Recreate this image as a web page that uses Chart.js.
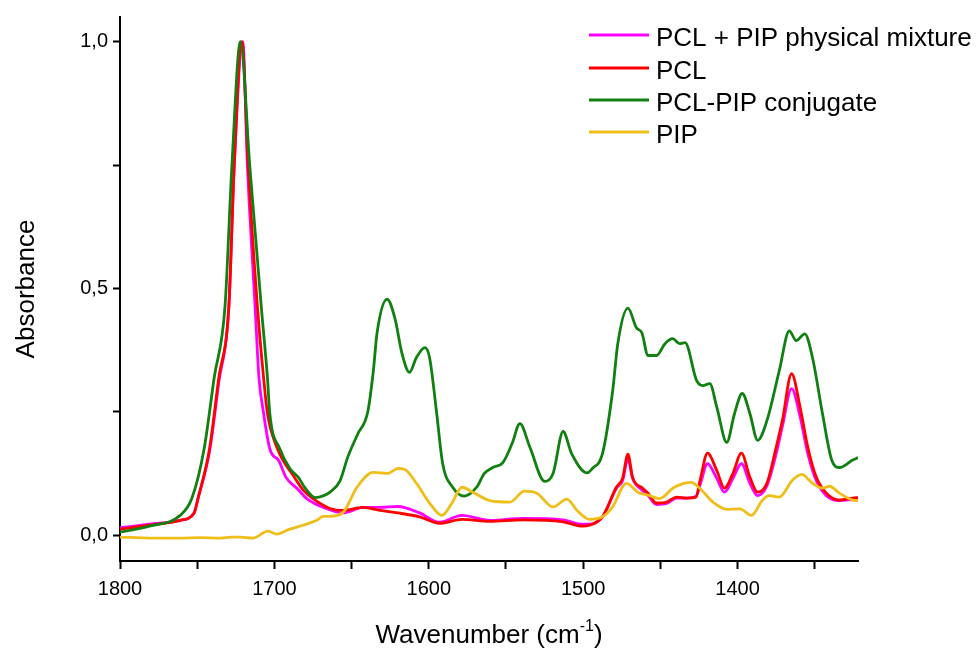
<!DOCTYPE html>
<html>
<head>
<meta charset="utf-8">
<script src="https://cdn.jsdelivr.net/npm/chart.js@4.4.1/dist/chart.umd.min.js"></script>
<style>
  html, body { margin: 0; padding: 0; background: #fff; }
  #wrap { width: 977px; height: 653px; }
</style>
</head>
<body>
<div id="wrap"><canvas id="chart" width="977" height="653"></canvas></div>
<script>
// series labels, in legend order
const seriesLabels = ['PCL + PIP physical mixture', 'PCL', 'PCL-PIP conjugate', 'PIP'];
const seriesColors = ['#FF00FF', '#FF0000', '#108010', '#F0BE19'];

// PCL + PIP physical mixture
const mixWn = [1800,1781,1761,1752,1749.5,1742,1736,1729.5,1726,1720.5,1717.5,1712.5,1710,1707,1703,1697,1692.5,1685.5,1679,1667.5,
  1655.5,1642.5,1631.5,1620,1606,1593,1578.5,1560.5,1539,1513,1500.5,1496,1487.5,1478.5,1474.5,1471,1468,1461.5,1458,1452.5,1446,
  1439.5,1433,1427,1424,1419.5,1413.5,1408.5,1403,1397.5,1392,1387,1381,1375,1371,1365,1359.5,1354.5,1349,1342.5,1334,1325.5,1322];
const mixAbs = [0.015,0.022,0.03,0.045,0.074,0.17,0.31,0.463,0.75,1.0,0.75,0.463,0.319,0.247,0.175,0.15,0.117,0.095,0.074,0.055,
  0.045,0.056,0.056,0.058,0.045,0.026,0.04,0.03,0.034,0.031,0.022,0.022,0.037,0.095,0.11,0.155,0.115,0.09,0.08,0.062,0.064,
  0.075,0.075,0.078,0.105,0.145,0.115,0.087,0.115,0.145,0.105,0.08,0.1,0.165,0.22,0.297,0.24,0.165,0.11,0.08,0.07,0.072,0.073];

// PCL
const pclWn = [1800,1781,1761,1752,1749.5,1742,1736,1729.5,1726,1721,1717,1711,1707,1704.5,1698,1687,1681,1675,1664,
  1655.5,1642.5,1631.5,1620,1606,1593,1578.5,1560.5,1539,1513,1500.5,1496,1487.5,1478.5,1474.5,1471,1468,1461.5,1458,1452.5,1446,
  1439.5,1433,1427,1424,1419.5,1413.5,1408.5,1403,1397.5,1392,1387,1381,1375,1371,1365,1359.5,1354.5,1349,1342.5,1334,1325.5,1322];
const pclAbs = [0.012,0.02,0.03,0.045,0.074,0.175,0.319,0.463,0.75,1.0,0.75,0.463,0.319,0.247,0.175,0.117,0.09,0.074,0.054,
  0.05,0.056,0.05,0.045,0.037,0.024,0.032,0.028,0.031,0.027,0.018,0.02,0.037,0.097,0.115,0.164,0.117,0.095,0.085,0.065,0.067,
  0.077,0.075,0.077,0.115,0.166,0.131,0.095,0.125,0.166,0.117,0.087,0.105,0.178,0.232,0.327,0.259,0.178,0.117,0.085,0.071,0.075,0.076];

// PCL-PIP conjugate
const conjWn = [1800,1781,1761,1753.5,1745.5,1739,1732,1727.5,1722,1716,1708.5,1704.5,1703,1696.5,1690,1684.5,1680,1673.5,1668,1664,
  1657.5,1652.5,1646,1639.5,1636,1633.5,1627,1622,1617.5,1612.5,1608,1602.5,1599.5,1595,1591,1584.5,1577,1569,1564,1558.5,
  1552,1546,1541,1534.5,1525,1519.5,1513,1507.5,1497.5,1494,1487.5,1481,1477.5,1471,1465.5,1462,1458,1452.5,1447,1442,
  1437.5,1434,1426.5,1422.5,1418,1413.5,1407,1402,1397,1392,1387,1381,1373,1366.5,1362,1356.5,1351.5,1345,1339,1334,1325.5,1322];
const conjAbs = [0.006,0.018,0.04,0.074,0.175,0.319,0.463,0.75,1.0,0.75,0.463,0.319,0.247,0.175,0.135,0.117,0.095,0.076,0.08,0.087,
  0.11,0.158,0.205,0.25,0.33,0.41,0.478,0.44,0.37,0.33,0.36,0.38,0.36,0.25,0.145,0.097,0.079,0.097,0.125,0.137,
  0.147,0.186,0.226,0.178,0.109,0.125,0.21,0.165,0.126,0.135,0.165,0.29,0.39,0.46,0.42,0.41,0.364,0.364,0.388,0.398,
  0.388,0.39,0.313,0.303,0.307,0.26,0.188,0.246,0.287,0.246,0.192,0.232,0.333,0.414,0.394,0.408,0.36,0.246,0.152,0.137,0.152,0.157];

// PIP
const pipWn = [1800,1780,1762,1748,1735,1728,1722,1714,1704,1698.5,1690,1681.5,1672.5,1668.5,1664,1655.5,1646.5,1636,1626.5,1620,
  1615.5,1608,1599.5,1591.5,1585,1578.5,1571.5,1560.5,1547.5,1538,1530,1519.5,1510.5,1504,1496,1487.5,1481,1472,1464.5,1457,
  1450.5,1441,1430,1424.5,1416,1407,1398.5,1391,1384,1379.5,1373,1364.5,1358.5,1351.5,1345,1340.5,1334,1325.5,1322];
const pipAbs = [-0.004,-0.006,-0.006,-0.005,-0.006,-0.004,-0.004,-0.006,0.008,0.002,0.012,0.02,0.03,0.038,0.038,0.046,0.097,0.127,0.125,0.135,
  0.133,0.105,0.065,0.04,0.065,0.097,0.087,0.07,0.067,0.089,0.085,0.057,0.073,0.05,0.032,0.037,0.057,0.105,0.087,0.08,
  0.074,0.097,0.107,0.095,0.067,0.052,0.053,0.04,0.07,0.08,0.077,0.111,0.123,0.105,0.095,0.099,0.085,0.071,0.07];

// axes
const xTickValues = [1800,1750,1700,1650,1600,1550,1500,1450,1400,1350];
const xLabelValues = [1800,1700,1600,1500,1400];
const yTickValues = [0,0.25,0.5,0.75,1.0];
const yLabelValues = [0,0.5,1.0];

const fontFamily = '"Liberation Sans", Arial, sans-serif';

const toPoints = (wn, abs) => wn.map((w, i) => ({ x: w, y: abs[i] }));
const seriesData = [
  toPoints(mixWn, mixAbs),
  toPoints(pclWn, pclAbs),
  toPoints(conjWn, conjAbs),
  toPoints(pipWn, pipAbs)
];

// legend and axis titles drawn on the canvas
const textPlugin = {
  id: 'textPlugin',
  afterDraw(chart) {
    const { ctx, chartArea } = chart;
    ctx.save();
    ctx.fillStyle = '#000';

    // legend
    ctx.font = '26px ' + fontFamily;
    ctx.textAlign = 'left';
    ctx.textBaseline = 'alphabetic';
    const rowY = [35, 68, 100, 132];
    seriesLabels.forEach((label, i) => {
      ctx.strokeStyle = seriesColors[i];
      ctx.lineWidth = 2.8;
      ctx.beginPath();
      ctx.moveTo(589, rowY[i]);
      ctx.lineTo(649, rowY[i]);
      ctx.stroke();
      ctx.fillText(label, 656, rowY[i] + 11);
    });

    // y title
    ctx.save();
    ctx.translate(34, (chartArea.top + chartArea.bottom) / 2);
    ctx.rotate(-Math.PI / 2);
    ctx.textAlign = 'center';
    ctx.fillText('Absorbance', 0, 0);
    ctx.restore();

    // x title with superscript
    const main = 'Wavenumber (cm';
    const sup = '-1';
    const close = ')';
    ctx.font = '26px ' + fontFamily;
    const wMain = ctx.measureText(main).width;
    const wClose = ctx.measureText(close).width;
    ctx.font = '16px ' + fontFamily;
    const wSup = ctx.measureText(sup).width;
    let x = (chartArea.left + chartArea.right) / 2 - (wMain + wSup + wClose) / 2;
    const base = 643;
    ctx.textAlign = 'left';
    ctx.font = '26px ' + fontFamily;
    ctx.fillText(main, x, base);
    x += wMain;
    ctx.font = '16px ' + fontFamily;
    ctx.fillText(sup, x, base - 12);
    x += wSup;
    ctx.font = '26px ' + fontFamily;
    ctx.fillText(close, x, base);
    ctx.restore();
  }
};

const ctx = document.getElementById('chart').getContext('2d');
new Chart(ctx, {
  type: 'line',
  data: {
    datasets: seriesData.map((data, i) => ({
      label: seriesLabels[i],
      data,
      borderColor: seriesColors[i],
      backgroundColor: seriesColors[i],
      borderWidth: 2.8,
      pointRadius: 0,
      fill: false,
      cubicInterpolationMode: 'monotone',
      order: seriesLabels.length - i
    }))
  },
  options: {
    responsive: false,
    animation: false,
    layout: { padding: { top: 15, right: 119, left: 0, bottom: 0 } },
    plugins: {
      legend: { display: false },
      tooltip: { enabled: false }
    },
    scales: {
      x: {
        type: 'linear',
        reverse: true,
        min: 1322,
        max: 1800,
        afterBuildTicks: (axis) => { axis.ticks = xTickValues.map(v => ({ value: v })); },
        afterFit: (axis) => { axis.height = 92; },
        border: { display: true, color: '#000', width: 2 },
        grid: { display: true, drawOnChartArea: false, drawTicks: true, tickLength: 8, tickWidth: 2, tickColor: '#000' },
        ticks: {
          color: '#000',
          padding: 8,
          maxRotation: 0,
          autoSkip: false,
          font: { size: 20, family: fontFamily },
          callback: (v) => xLabelValues.includes(v) ? String(v) : ''
        }
      },
      y: {
        type: 'linear',
        min: -0.0525,
        max: 1.05,
        afterBuildTicks: (axis) => { axis.ticks = yTickValues.map(v => ({ value: v })); },
        afterFit: (axis) => { axis.width = 120; },
        border: { display: true, color: '#000', width: 2 },
        grid: { display: true, drawOnChartArea: false, drawTicks: true, tickLength: 7, tickWidth: 2, tickColor: '#000' },
        ticks: {
          color: '#000',
          padding: 5,
          autoSkip: false,
          font: { size: 20, family: fontFamily },
          callback: (v) => yLabelValues.includes(v) ? v.toFixed(1).replace('.', ',') : ''
        }
      }
    }
  },
  plugins: [textPlugin]
});
</script>
</body>
</html>
